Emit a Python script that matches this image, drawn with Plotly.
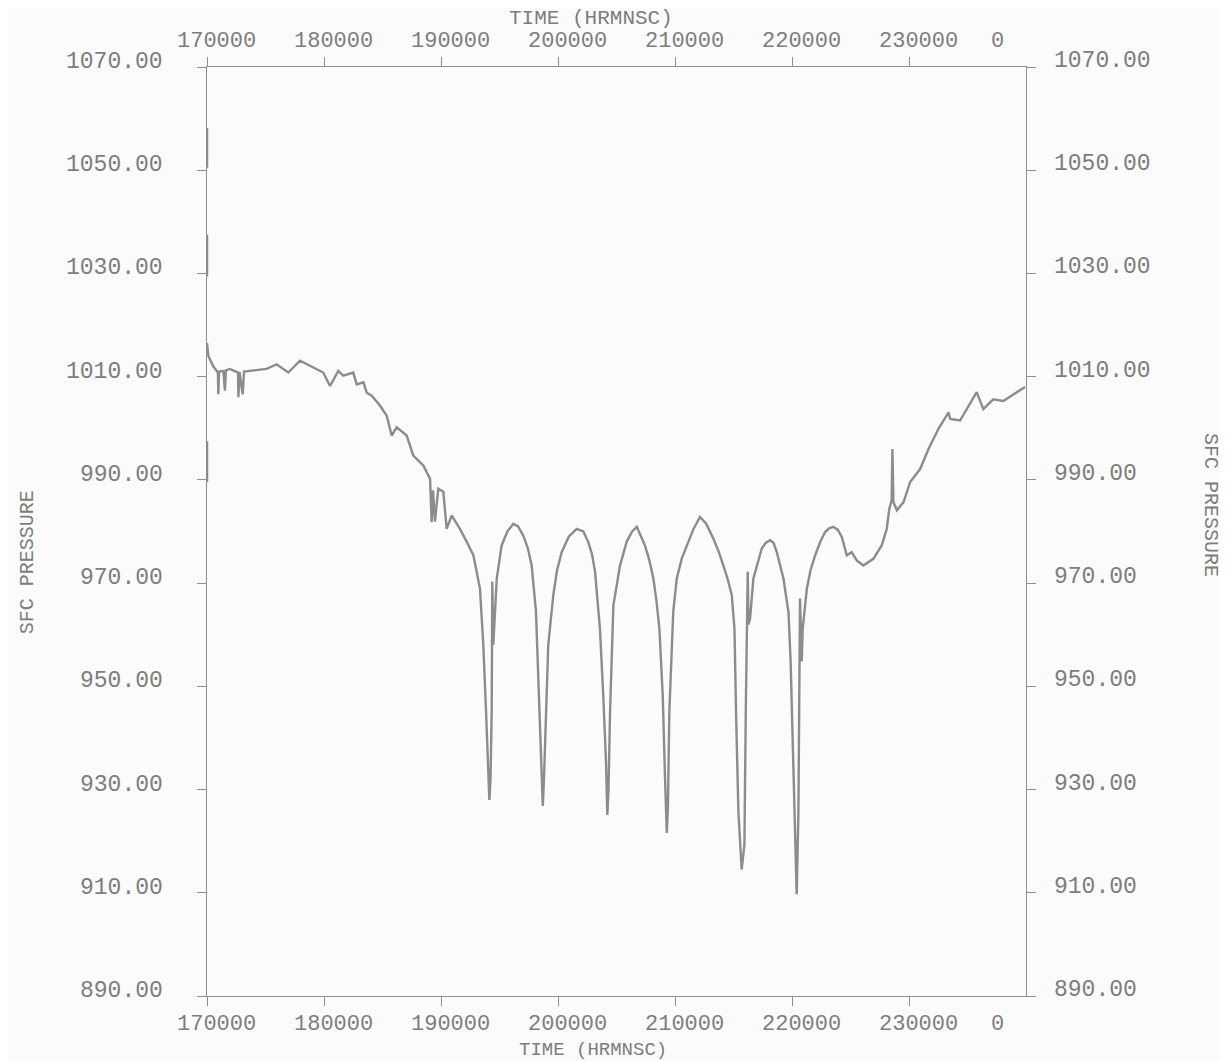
import plotly.graph_objects as go

# ---- data (time in minutes after 17:00:00, surface pressure in mb)
minutes_after_1700 = [
    0, 0.7, 3.2, 5.6, 5.8, 6.2, 8.4, 9.2, 9.7, 11.8,
    15.9, 16.1, 16.7, 18.3, 19.0, 22.0, 30.6, 35.7, 41.7, 47.7,
    54.5, 59.6, 63.1, 67.3, 69.9, 75.0, 76.8, 80.2, 81.9, 84.5,
    88.7, 92.2, 94.7, 97.3, 102.4, 105.8, 110.9, 113.5, 114.4, 115.2,
    115.9, 116.9, 118.6, 121.2, 122.9, 125.5, 129.7, 133.2, 136.6, 140.0,
    141.7, 143.1, 144.3, 144.8, 145.4, 146.0, 146.3, 146.8, 148.6, 151.1,
    154.0, 157.1, 159.5, 162.2, 164.5, 166.5, 168.7, 169.9, 171.3, 172.2,
    172.8, 173.8, 175.0, 177.6, 179.5, 181.9, 185.5, 189.6, 193.0, 195.5,
    197.5, 199.0, 201.5, 203.2, 204.6, 205.3, 205.9, 206.7, 208.4, 211.8,
    215.2, 218.0, 220.4, 224.6, 226.8, 228.9, 230.5, 232.0, 233.7, 234.9,
    235.8, 236.4, 237.1, 239.1, 240.9, 243.5, 246.0, 249.5, 252.8, 256.0,
    259.7, 262.5, 264.8, 267.0, 269.1, 270.5, 271.3, 272.5, 274.2, 275.6,
    276.3, 276.8, 277.3, 277.7, 278.5, 280.2, 284.5, 286.5, 288.7, 290.5,
    292.2, 295.6, 298.2, 299.3, 300.4, 301.6, 302.4, 303.3, 303.8, 304.1,
    305.0, 305.5, 307.6, 309.5, 311.9, 314.5, 317.0, 319.0, 321.2, 323.5,
    325.5, 327.0, 328.1, 330.6, 333.2, 336.6, 341.7, 346.0, 348.6, 349.9,
    351.1, 351.5, 352.0, 353.8, 357.2, 360.6, 365.7, 370.0, 375.1, 380.3,
    381.1, 386.2, 389.6, 394.7, 398.1, 403.2, 408.4, 413.5, 416.9, 419.5,
]
pressure_mb = [
    1016.5, 1014.0, 1012.0, 1010.8, 1006.6, 1011.0, 1011.1, 1007.3, 1011.2, 1011.5,
    1010.8, 1006.0, 1010.9, 1006.6, 1011.0, 1011.1, 1011.5, 1012.4, 1010.8, 1013.1,
    1011.8, 1010.8, 1008.2, 1011.1, 1010.2, 1010.8, 1008.5, 1008.9, 1006.9, 1006.3,
    1004.4, 1002.4, 998.6, 1000.2, 998.6, 994.7, 992.8, 990.8, 990.2, 981.8,
    988.0, 981.9, 988.3, 987.7, 980.5, 983.1, 980.5, 978.0, 975.4, 968.9,
    958.0, 945.2, 932.2, 928.0, 932.0, 945.2, 970.3, 958.0, 970.9, 977.3,
    980.0, 981.5, 981.0, 979.2, 976.8, 973.4, 964.5, 951.5, 935.5, 926.8,
    932.0, 945.2, 958.0, 967.7, 972.5, 976.0, 979.0, 980.5, 980.0, 978.0,
    975.5, 972.2, 961.2, 948.3, 935.5, 925.1, 930.0, 945.2, 965.7, 973.4,
    978.0, 980.0, 980.9, 977.3, 974.5, 970.9, 966.5, 961.2, 948.3, 932.2,
    921.6, 927.0, 945.2, 964.4, 970.9, 974.8, 977.3, 980.5, 982.8, 981.5,
    978.6, 976.0, 973.4, 970.8, 967.7, 961.2, 945.1, 925.8, 914.5, 919.3,
    945.1, 961.2, 972.2, 962.0, 963.1, 970.9, 976.7, 977.8, 978.3, 977.8,
    976.0, 970.9, 964.4, 954.8, 938.7, 922.5, 909.7, 925.8, 945.0, 967.0,
    954.8, 961.2, 968.9, 972.5, 975.4, 978.0, 979.9, 980.6, 980.9, 980.3,
    979.0, 977.2, 975.4, 976.0, 974.4, 973.4, 974.7, 977.3, 980.5, 984.4,
    986.0, 996.0, 985.7, 984.1, 985.7, 989.6, 992.1, 996.0, 999.9, 1003.1,
    1001.8, 1001.5, 1003.7, 1007.0, 1003.7, 1005.6, 1005.3, 1006.6, 1007.3, 1008.0,
]

# short vertical artefacts drawn at the very start of the record
artefact_minutes = [0, 0, 0]
artefact_top_mb = [1058.2, 1037.5, 997.5]
artefact_bottom_mb = [1050.5, 1029.4, 989.6]

x_tick_hours = [17, 18, 19, 20, 21, 22, 23]
x_tick_labels = ["170000", "180000", "190000", "200000", "210000", "220000", "230000"]
end_hour = 24
end_label = "0"
y_ticks = [890, 910, 930, 950, 970, 990, 1010, 1030, 1050, 1070]
axis_title_x = "TIME (HRMNSC)"
axis_title_y = "SFC PRESSURE"

# ---- styling
FONT = "Liberation Mono"
TXT = "#7d7d7d"
LINE = "#8c8c8c"
BG = "#fbfbfb"

hours = [17 + m / 60 for m in minutes_after_1700]

art_x, art_y = [], []
for m, top, bot in zip(artefact_minutes, artefact_top_mb, artefact_bottom_mb):
    art_x += [17 + m / 60, 17 + m / 60, None]
    art_y += [top, bot, None]

fig = go.Figure()
fig.add_trace(go.Scatter(x=hours, y=pressure_mb, mode="lines",
                         line=dict(color=LINE, width=2.4), showlegend=False))
fig.add_trace(go.Scatter(x=art_x, y=art_y, mode="lines",
                         line=dict(color="#8a8a8a", width=2.5), showlegend=False))

ann = []
for h, lab in zip(x_tick_hours, x_tick_labels):
    for ypos, ys in ((1, 26), (0, -28)):
        ann.append(dict(x=h, y=ypos, xref="x", yref="paper", text=lab, showarrow=False,
                        xshift=9, yshift=ys, xanchor="center", yanchor="middle",
                        font=dict(family=FONT, size=22, color=TXT)))
for ypos, ys in ((1, 26), (0, -28)):
    ann.append(dict(x=end_hour, y=ypos, xref="x", yref="paper", text=end_label,
                    showarrow=False, xshift=-29, yshift=ys, xanchor="center",
                    yanchor="middle", font=dict(family=FONT, size=22, color=TXT)))
for v in y_ticks:
    ann.append(dict(x=0, y=v, xref="paper", yref="y", text=f"{v:.2f}", showarrow=False,
                    xshift=-42, yshift=5, xanchor="right", yanchor="middle",
                    font=dict(family=FONT, size=23, color=TXT)))
    ann.append(dict(x=1, y=v, xref="paper", yref="y", text=f"{v:.2f}", showarrow=False,
                    xshift=26, yshift=6, xanchor="left", yanchor="middle",
                    font=dict(family=FONT, size=23, color=TXT)))
# axis titles
ann.append(dict(x=0.469, y=1, xref="paper", yref="paper", text=axis_title_x, showarrow=False,
                yshift=49, xanchor="center", yanchor="middle",
                font=dict(family=FONT, size=21, color=TXT)))
ann.append(dict(x=0.471, y=0, xref="paper", yref="paper", text=axis_title_x, showarrow=False,
                yshift=-54, xanchor="center", yanchor="middle",
                font=dict(family=FONT, size=19, color=TXT)))
ann.append(dict(x=0, y=0.467, xref="paper", yref="paper", text=axis_title_y, showarrow=False,
                xshift=-180, textangle=-90, xanchor="center", yanchor="middle",
                font=dict(family=FONT, size=20, color=TXT)))
ann.append(dict(x=1, y=0.5285, xref="paper", yref="paper", text=axis_title_y, showarrow=False,
                xshift=185, textangle=90, xanchor="center", yanchor="middle",
                font=dict(family=FONT, size=20, color=TXT)))

# the page body adds an 8 px offset, so the figure is 8 px smaller and shifted back
fig.update_layout(
    width=1219, height=1053,
    margin=dict(l=199, r=201, t=59, b=65),
    paper_bgcolor=BG, plot_bgcolor=BG,
    annotations=ann,
    xaxis=dict(range=[17, 24], tickvals=x_tick_hours, showticklabels=False,
               showgrid=False, zeroline=False, showline=True, linecolor="#8f8f8f",
               linewidth=1.3, mirror="ticks", ticks="outside", ticklen=9,
               tickcolor="#8f8f8f", tickwidth=1.3),
    yaxis=dict(range=[890, 1070], tickvals=y_ticks, showticklabels=False,
               showgrid=False, zeroline=False, showline=True, linecolor="#8f8f8f",
               linewidth=1.3, mirror="ticks", ticks="outside", ticklen=9,
               tickcolor="#8f8f8f", tickwidth=1.3),
)

fig.write_html("out.html")
